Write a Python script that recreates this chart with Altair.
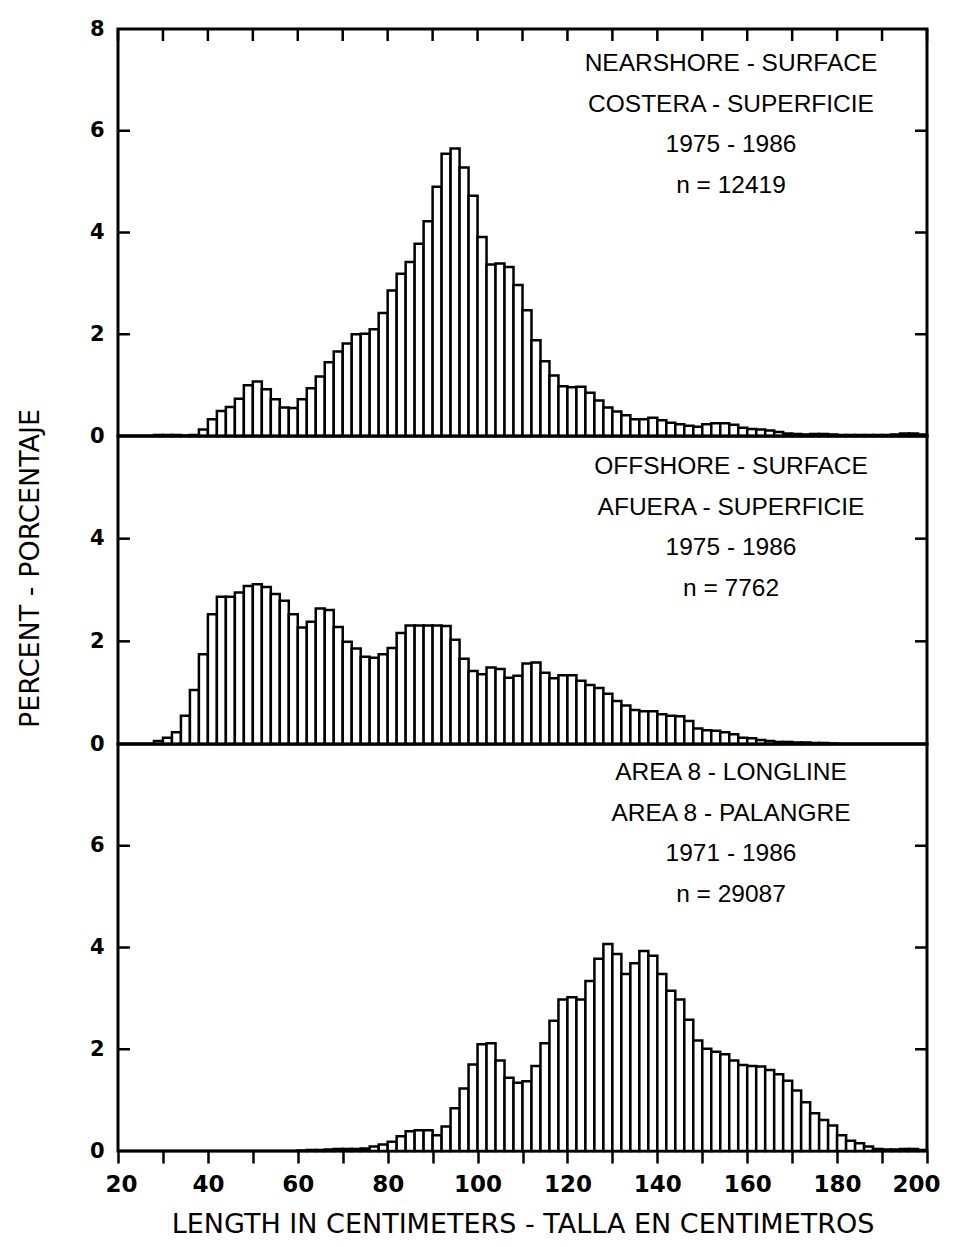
import altair as alt
import pandas as pd

# ---- data (percent per 2-cm length class, classes start at 20, 22, ..., 198 cm) ----
BIN_START_CM = list(range(20, 200, 2))
BIN_WIDTH_CM = 2

NEARSHORE_PCT = [
    0, 0, 0, 0, 0.02,
    0.02, 0.02, 0.01, 0.02, 0.13,
    0.33, 0.49, 0.57, 0.73, 1.00,
    1.07, 0.92, 0.72, 0.56, 0.55,
    0.72, 0.94, 1.17, 1.45, 1.66,
    1.82, 2.00, 2.01, 2.10, 2.42,
    2.86, 3.19, 3.42, 3.78, 4.22,
    4.90, 5.55, 5.65, 5.28, 4.72,
    3.91, 3.37, 3.39, 3.32, 2.97,
    2.47, 1.88, 1.47, 1.19, 0.98,
    0.96, 0.97, 0.85, 0.70, 0.56,
    0.48, 0.41, 0.33, 0.33, 0.36,
    0.31, 0.26, 0.23, 0.20, 0.18,
    0.23, 0.25, 0.25, 0.22, 0.16,
    0.14, 0.13, 0.11, 0.08, 0.05,
    0.04, 0.03, 0.04, 0.04, 0.03,
    0.02, 0.02, 0.02, 0.02, 0.02,
    0.02, 0.03, 0.05, 0.05, 0.03,
]

OFFSHORE_PCT = [
    0, 0, 0, 0, 0.06,
    0.12, 0.23, 0.55, 1.05, 1.75,
    2.53, 2.87, 2.87, 2.95, 3.08,
    3.11, 3.06, 2.92, 2.79, 2.53,
    2.27, 2.38, 2.64, 2.61, 2.28,
    1.99, 1.86, 1.70, 1.68, 1.75,
    1.87, 2.16, 2.31, 2.31, 2.31,
    2.31, 2.30, 2.03, 1.66, 1.42,
    1.36, 1.49, 1.46, 1.29, 1.33,
    1.57, 1.59, 1.39, 1.28, 1.34,
    1.34, 1.23, 1.15, 1.09, 0.98,
    0.84, 0.75, 0.66, 0.64, 0.64,
    0.58, 0.55, 0.54, 0.45, 0.30,
    0.27, 0.26, 0.23, 0.19, 0.12,
    0.11, 0.08, 0.06, 0.04, 0.04,
    0.03, 0.03, 0.02, 0.02, 0.01,
    0, 0, 0, 0, 0,
    0, 0, 0, 0, 0,
]

LONGLINE_PCT = [
    0, 0, 0, 0, 0,
    0, 0, 0, 0, 0,
    0, 0, 0, 0, 0,
    0, 0, 0, 0, 0,
    0.01, 0.02, 0.02, 0.03, 0.04,
    0.04, 0.04, 0.05, 0.09, 0.13,
    0.18, 0.29, 0.39, 0.41, 0.41,
    0.31, 0.48, 0.84, 1.23, 1.70,
    2.10, 2.12, 1.78, 1.44, 1.34,
    1.37, 1.67, 2.12, 2.56, 2.98,
    3.02, 2.98, 3.34, 3.78, 4.07,
    3.87, 3.48, 3.69, 3.93, 3.84,
    3.48, 3.15, 2.98, 2.58, 2.17,
    2.01, 1.95, 1.90, 1.78, 1.69,
    1.67, 1.66, 1.59, 1.51, 1.38,
    1.19, 0.96, 0.74, 0.61, 0.50,
    0.31, 0.20, 0.15, 0.09, 0.04,
    0.03, 0.03, 0.04, 0.04, 0.02,
]

NEARSHORE_TEXT = ["NEARSHORE - SURFACE", "COSTERA - SUPERFICIE", "1975 - 1986", "n = 12419"]
OFFSHORE_TEXT = ["OFFSHORE - SURFACE", "AFUERA - SUPERFICIE", "1975 - 1986", "n = 7762"]
LONGLINE_TEXT = ["AREA 8 - LONGLINE", "AREA 8 - PALANGRE", "1971 - 1986", "n = 29087"]

X_TICKS = list(range(20, 201, 10))
Y_LABELS_TOP = [0, 2, 4, 6, 8]
Y_LABELS_MID = [0, 2, 4]
Y_LABELS_BOT = [0, 2, 4, 6]
Y_INNER_TOP = [2, 4, 6]
Y_INNER_MID = [2, 4]
Y_INNER_BOT = [2, 4, 6]

X_TITLE = "LENGTH IN CENTIMETERS - TALLA EN CENTIMETROS"
Y_TITLE = "PERCENT - PORCENTAJE"

# ---- style ----
W = 809
BAR_STROKE = 2.5
TICK_LEN = 12
LABEL_FONT = "DejaVu Sans"
TEXT_FONT = "Liberation Sans"


def panel(values, ymax, height, y_labels, y_inner, lines, text_y,
          bottom_axis=False, top_ticks=False, y_title=False):
    df = pd.DataFrame({
        "start": BIN_START_CM,
        "end": [s + BIN_WIDTH_CM for s in BIN_START_CM],
        "pct": values,
        "base": [0] * len(values),
    })
    xscale = alt.Scale(domain=[20, 200], nice=False, zero=False)
    yscale = alt.Scale(domain=[0, ymax], nice=False)

    if bottom_axis:
        xaxis = alt.Axis(
            values=X_TICKS,
            labelExpr="datum.value % 20 == 0 ? datum.label : ''",
            tickSize=TICK_LEN, tickWidth=2.5, tickColor="black",
            domain=False, grid=False, labelFlush=True, labelFlushOffset=13,
            labelOverlap=False,
            labelFont=LABEL_FONT, labelFontSize=23, labelFontWeight="bold",
            labelColor="black", labelPadding=10,
            title=X_TITLE, titleFont=LABEL_FONT, titleFontSize=27,
            titleFontWeight="normal", titleColor="black", titlePadding=15,
        )
    else:
        xaxis = None

    yaxis_kwargs = dict(
        values=y_labels, ticks=False, domain=False, grid=False,
        labelFlush=False, labelOverlap=False,
        labelFont=LABEL_FONT, labelFontSize=21, labelFontWeight="bold",
        labelColor="black", labelPadding=14,
    )
    if y_title:
        yaxis = alt.Axis(
            title=Y_TITLE, titleFont=LABEL_FONT, titleFontSize=27,
            titleFontWeight="normal", titleColor="black",
            titleX=-88, titleY=132, titleAngle=-90, titleAlign="center",
            titleBaseline="middle", **yaxis_kwargs,
        )
    else:
        yaxis = alt.Axis(title=None, **yaxis_kwargs)

    bars = alt.Chart(df).mark_rect(
        fill="white", stroke="black", strokeWidth=BAR_STROKE
    ).encode(
        x=alt.X("start:Q", scale=xscale, axis=xaxis),
        x2="end:Q",
        y=alt.Y("pct:Q", scale=yscale, axis=yaxis),
        y2="base:Q",
    )

    tdf = pd.DataFrame({"v": y_inner})
    left_ticks = alt.Chart(tdf).mark_rule(color="black", strokeWidth=2.5).encode(
        y=alt.Y("v:Q", scale=yscale, axis=yaxis), x=alt.value(0), x2=alt.value(TICK_LEN)
    )
    right_ticks = alt.Chart(tdf).mark_rule(color="black", strokeWidth=2.5).encode(
        y=alt.Y("v:Q", scale=yscale, axis=yaxis), x=alt.value(W - TICK_LEN), x2=alt.value(W)
    )

    txt = alt.Chart(pd.DataFrame({"k": [0]})).mark_text(
        font=TEXT_FONT, fontSize=24.5, align="center", baseline="alphabetic",
        lineHeight=40.5, color="black",
    ).encode(
        text=alt.value(lines), x=alt.value(613), y=alt.value(text_y)
    )

    layers = [bars, left_ticks, right_ticks, txt]
    if top_ticks:
        xdf = pd.DataFrame({"t": X_TICKS})
        layers.append(
            alt.Chart(xdf).mark_rule(color="black", strokeWidth=2.5).encode(
                x=alt.X("t:Q", scale=xscale, axis=xaxis), y=alt.value(0), y2=alt.value(TICK_LEN)
            )
        )
    return alt.layer(*layers).properties(width=W, height=height)


top = panel(NEARSHORE_PCT, 8, 407, Y_LABELS_TOP, Y_INNER_TOP, NEARSHORE_TEXT, 42,
            top_ticks=True)
mid = panel(OFFSHORE_PCT, 6, 308, Y_LABELS_MID, Y_INNER_MID, OFFSHORE_TEXT, 38,
            y_title=True)
bot = panel(LONGLINE_PCT, 8, 407, Y_LABELS_BOT, Y_INNER_BOT, LONGLINE_TEXT, 36,
            bottom_axis=True)

chart = alt.vconcat(top, mid, bot, spacing=0, bounds="flush").resolve_scale(
    y="independent"
).resolve_axis(y="independent").properties(
    padding={"left": 6, "top": 8, "right": 0, "bottom": 1},
    background="white",
).configure_view(
    stroke="black", strokeWidth=3
)

chart.save("out.html", embed_options={"renderer": "svg", "actions": False})
